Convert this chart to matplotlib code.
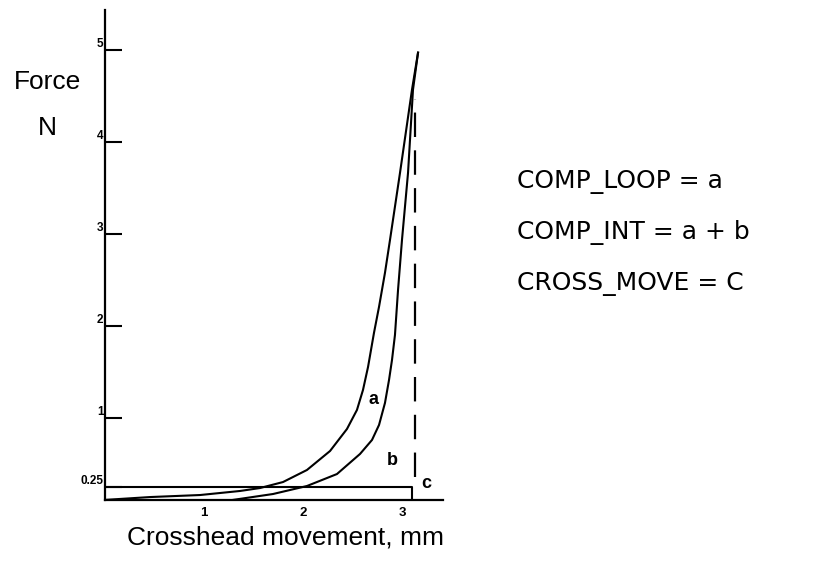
import matplotlib
matplotlib.use("Agg")
import matplotlib.pyplot as plt

# curve a (outer loop) : crosshead movement (mm), force (N)
a_x = [0.00, 0.455, 0.96, 1.364, 1.566, 1.798, 2.040, 2.273, 2.444, 2.545, 2.606,
       2.657, 2.717, 2.768, 2.828, 2.879, 2.980, 3.101, 3.162]
a_y = [0.11, 0.141, 0.163, 0.207, 0.239, 0.304, 0.435, 0.641, 0.880, 1.087, 1.304,
       1.554, 1.924, 2.207, 2.576, 2.935, 3.663, 4.565, 4.967]

# curve b (inner)
b_x = [1.293, 1.697, 2.040, 2.343, 2.576, 2.697, 2.768, 2.828, 2.869, 2.899,
       2.929, 2.960, 3.000, 3.061, 3.111, 3.162]
b_y = [0.11, 0.174, 0.261, 0.391, 0.609, 0.761, 0.924, 1.163, 1.413, 1.630,
       1.902, 2.391, 2.935, 3.663, 4.565, 4.967]

# box c and dashed line
box_x = [0.0, 3.10, 3.10]
box_y = [0.25, 0.25, 0.11]
dash_x = [3.13, 3.13]
dash_y = [0.36, 4.46]

y_ticks = [0.25, 1, 2, 3, 4, 5]
y_labels = ["0.25", "1", "2", "3", "4", "5"]
x_ticks = [1, 2, 3]
x_labels = ["1", "2", "3"]

notes = ["COMP_LOOP = a", "COMP_INT = a + b", "CROSS_MOVE = C"]

W, H = 822, 563
fig = plt.figure(figsize=(W / 100, H / 100), dpi=100)
ax = fig.add_axes([105 / W, 1 - 500 / H, (443 - 105) / W, 490 / H])

ax.plot(a_x, a_y, color="black", lw=1.5, solid_joinstyle="round")
ax.plot(b_x, b_y, color="black", lw=1.5, solid_joinstyle="round")
ax.plot(box_x, box_y, color="black", lw=1.5)
ax.plot(dash_x, dash_y, color="black", lw=1.6, dashes=(11, 6))

ax.set_xlim(0, (443 - 105) / 99)
ax.set_ylim(0.109, 5.43)

for s in ["top", "right"]:
    ax.spines[s].set_visible(False)
ax.spines["left"].set_linewidth(1.6)
ax.spines["bottom"].set_linewidth(1.6)

ax.set_yticks(y_ticks)
ax.set_yticklabels(y_labels, fontsize=8.5, fontweight="bold", family="Liberation Sans")
ax.tick_params(axis="y", direction="in", length=12, width=1.5, pad=1)
for t in ax.get_yticklabels():
    t.set_va("bottom")

ax.set_xticks(x_ticks)
ax.set_xticklabels(x_labels, fontsize=9.5, fontweight="bold", family="Liberation Sans")
ax.tick_params(axis="x", length=0, pad=5)

ax.text(2.71, 1.20, "a", fontsize=13, fontweight="bold", family="Liberation Sans",
        ha="center", va="center")
ax.text(2.90, 0.54, "b", fontsize=13, fontweight="bold", family="Liberation Sans",
        ha="center", va="center")
ax.text(3.24, 0.29, "c", fontsize=13, fontweight="bold", family="Liberation Sans",
        ha="center", va="center")

fig.text(47 / W, 1 - 82 / H, "Force", fontsize=19, family="Liberation Sans",
         ha="center", va="center")
fig.text(47 / W, 1 - 128 / H, "N", fontsize=19, family="Liberation Sans",
         ha="center", va="center")
fig.text(285 / W, 1 - 538 / H, "Crosshead movement, mm", fontsize=19,
         family="Liberation Sans", ha="center", va="center")

for i, s in enumerate(notes):
    fig.text(517 / W, 1 - (182 + 51 * i) / H, s, fontsize=18, family="DejaVu Sans",
             ha="left", va="center")

fig.savefig("out.png", dpi=100)
